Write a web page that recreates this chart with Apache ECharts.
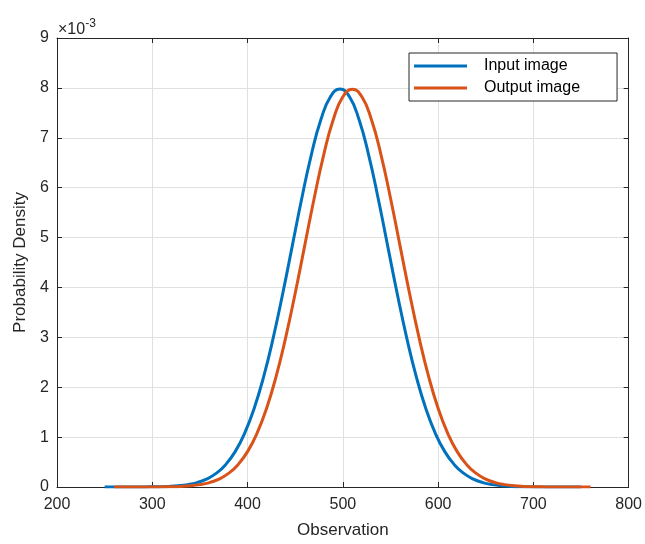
<!DOCTYPE html>
<html>
<head>
<meta charset="utf-8">
<script src="https://cdn.jsdelivr.net/npm/echarts@6/dist/echarts.min.js"></script>
<style>html,body{margin:0;padding:0;background:#fff;overflow:hidden}#c{width:645px;height:544px}</style>
</head>
<body>
<div id="c"></div>
<script>
// Input image density
var inputX = [250,257,267,277,287,297,307,317,327,337,347,357,367,377,387,397,407,417,427,437,447,457,467,477,487,497,
  507,517,527,537,547,557,567,577,587,597,607,617,627,637,647,657,667,677,687,697,707,717,727,737,747,750];
var inputY = [0,0.0000001,0.0000002,0.0000005,0.0000012,0.0000027,0.0000058,0.0000122,0.0000246,0.0000477,0.0000886,
  0.000158,0.000272,0.000448,0.000709,0.001080,0.001579,0.002218,0.002995,0.003884,0.004839,0.005794,0.006664,0.007365,0.007821,0.007979,
  0.007821,0.007365,0.006664,0.005794,0.004839,0.003884,0.002995,0.002218,0.001579,0.001080,0.000709,0.000448,0.000272,0.000158,
  0.0000886,0.0000477,0.0000246,0.0000122,0.0000058,0.0000027,0.0000012,0.0000005,0.0000002,0.0000001,0.00000003,0];
// Output image density
var outputX = [260,270,280,290,300,310,320,330,340,350,360,370,380,390,400,410,420,430,440,450,460,470,480,490,500,510,
  520,530,540,550,560,570,580,590,600,610,620,630,640,650,660,670,680,690,700,710,720,730,740,750,760];
var outputY = [0,0.0000001,0.0000002,0.0000005,0.0000012,0.0000027,0.0000058,0.0000122,0.0000246,0.0000477,0.0000886,
  0.000158,0.000272,0.000448,0.000709,0.001080,0.001579,0.002218,0.002995,0.003884,0.004839,0.005794,0.006664,0.007365,0.007821,0.007975,
  0.007821,0.007365,0.006664,0.005794,0.004839,0.003884,0.002995,0.002218,0.001579,0.001080,0.000709,0.000448,0.000272,0.000158,
  0.0000886,0.0000477,0.0000246,0.0000122,0.0000058,0.0000027,0.0000012,0.0000005,0.0000002,0.0000001,0];
var xTicks = {min: 200, max: 800, interval: 100};
var yTicks = {min: 0, max: 0.009, interval: 0.001};
var seriesNames = ['Input image', 'Output image'];

function pairs(xs, ys){ return xs.map(function(x,i){ return [x, ys[i]]; }); }

var FONT = '"Liberation Sans", Arial, sans-serif';
var AX = '#262626';
var chart = echarts.init(document.getElementById('c'), null, {renderer: 'canvas'});
var baseX = {
  type: 'value', min: xTicks.min, max: xTicks.max, interval: xTicks.interval,
  axisLine: {show: true, onZero: false, lineStyle: {color: AX, width: 1}},
  axisTick: {show: true, inside: true, length: 5, lineStyle: {color: AX}}
};
var baseY = {
  type: 'value', min: yTicks.min, max: yTicks.max, interval: yTicks.interval,
  axisLine: {show: true, onZero: false, lineStyle: {color: AX, width: 1}},
  axisTick: {show: true, inside: true, length: 5, lineStyle: {color: AX}}
};
chart.setOption({
  animation: false,
  backgroundColor: '#fff',
  textStyle: {fontFamily: FONT},
  grid: {left: 57, right: 14, top: 38, bottom: 52, containLabel: false},
  legend: {
    data: seriesNames,
    orient: 'vertical',
    left: 409, top: 53,
    padding: [5, 37, 5, 5],
    icon: 'rect',
    itemWidth: 53, itemHeight: 3, itemGap: 6,
    backgroundColor: '#fff',
    borderColor: AX, borderWidth: 1, borderRadius: 0,
    textStyle: {fontFamily: FONT, fontSize: 16, lineHeight: 16, color: '#000', padding: [0, 0, 0, 12]}
  },
  xAxis: [
    Object.assign({}, baseX, {
      position: 'bottom',
      name: 'Observation', nameLocation: 'middle', nameGap: 35,
      nameTextStyle: {fontFamily: FONT, fontSize: 17, color: AX},
      axisLabel: {show: true, margin: 10, fontSize: 16, color: AX, fontFamily: FONT},
      splitLine: {show: true, lineStyle: {color: '#e0e0e0', width: 1}}
    }),
    Object.assign({}, baseX, {position: 'top', axisLabel: {show: false}, splitLine: {show: false}})
  ],
  yAxis: [
    Object.assign({}, baseY, {
      position: 'left',
      name: 'Probability Density', nameLocation: 'middle', nameGap: 21,
      nameTextStyle: {fontFamily: FONT, fontSize: 17, color: AX},
      axisLabel: {show: true, margin: 8, fontSize: 16, color: AX, fontFamily: FONT,
        formatter: function(v){ return String(Math.round(v * 1000)); }},
      splitLine: {show: true, lineStyle: {color: '#e0e0e0', width: 1}}
    }),
    Object.assign({}, baseY, {position: 'right', axisLabel: {show: false}, splitLine: {show: false}})
  ],
  graphic: [{
    type: 'text', left: 58, top: 18,
    style: {
      text: '{a|×10}{b|-3}',
      rich: {
        a: {fontFamily: FONT, fontSize: 16, fill: AX, verticalAlign: 'bottom', lineHeight: 20},
        b: {fontFamily: FONT, fontSize: 12, fill: AX, verticalAlign: 'top', lineHeight: 20, padding: [0,0,10,0]}
      }
    }
  }],
  series: [
    {name: seriesNames[0], type: 'line', data: pairs(inputX, inputY), smooth: true, symbol: 'none',
      lineStyle: {color: '#0072BD', width: 3}, itemStyle: {color: '#0072BD'}, z: 2},
    {name: seriesNames[1], type: 'line', data: pairs(outputX, outputY), smooth: true, symbol: 'none',
      lineStyle: {color: '#D95319', width: 3}, itemStyle: {color: '#D95319'}, z: 3}
  ]
});
</script>
</body>
</html>
